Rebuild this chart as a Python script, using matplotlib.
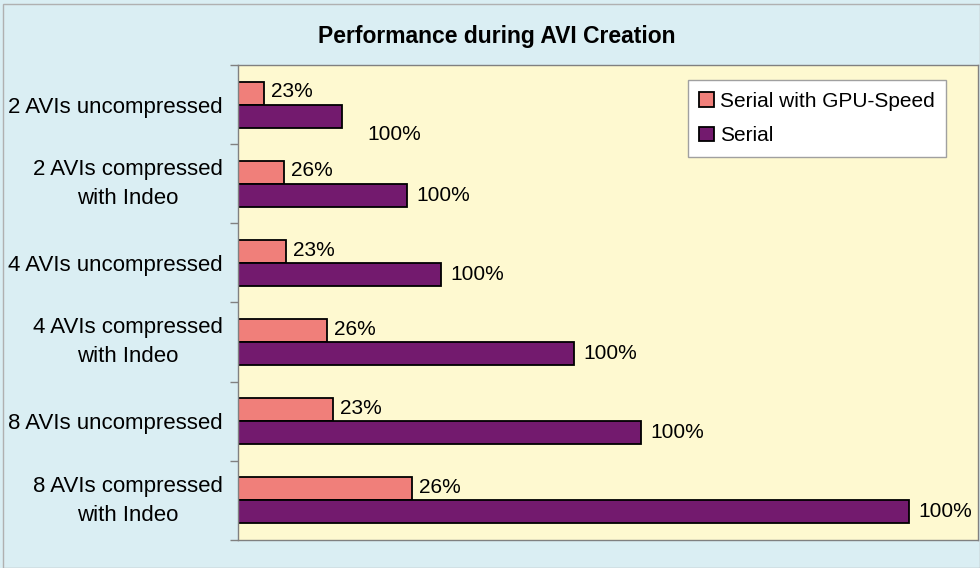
import numpy as np
import matplotlib.pyplot as plt
from matplotlib.patches import Rectangle

plt.rcParams['font.family'] = ['Liberation Sans', 'DejaVu Sans']

categories = ["2 AVIs uncompressed",
              "2 AVIs compressed\nwith Indeo",
              "4 AVIs uncompressed",
              "4 AVIs compressed\nwith Indeo",
              "8 AVIs uncompressed",
              "8 AVIs compressed\nwith Indeo"]
# relative run time (same arbitrary units for both series)
serial = [104, 169, 203, 336, 403, 671]
gpu = [26, 46, 48, 89, 95, 174]
serial_labels = ["100%", "100%", "100%", "100%", "100%", "100%"]
gpu_labels = ["23%", "26%", "23%", "26%", "23%", "26%"]

BG = "#daeef3"
PLOT_BG = "#fef9d0"
GPU_COL = "#f07f7a"
SERIAL_COL = "#731a6e"

fig = plt.figure(figsize=(9.8, 5.68), dpi=100, facecolor=BG)
fig.patches.append(Rectangle((0.003, 0.0), 0.997, 0.993, transform=fig.transFigure,
                             fill=False, edgecolor="#b0b0b0", lw=1))
ax = fig.add_axes([0.2429, 0.0493, 0.755, 0.8363])
ax.set_facecolor(PLOT_BG)

y = np.arange(len(categories))
h = 0.29
b1 = ax.barh(y - h / 2, gpu, height=h, color=GPU_COL, edgecolor="black", lw=1.3,
             label="Serial with GPU-Speed")
b2 = ax.barh(y + h / 2, serial, height=h, color=SERIAL_COL, edgecolor="black", lw=1.3,
             label="Serial")

ax.set_xlim(0, 740)
ax.set_ylim(len(categories) - 0.5, -0.5)

for i in range(len(categories)):
    ax.annotate(gpu_labels[i], (gpu[i], y[i] - h / 2), xytext=(5, 1),
                textcoords="offset points", va="center", ha="left", fontsize=15)
    if i == 0:
        ax.annotate(serial_labels[i], (serial[i], y[i] + h / 2), xytext=(18, -13),
                    textcoords="offset points", va="center", ha="left", fontsize=15)
    else:
        ax.annotate(serial_labels[i], (serial[i], y[i] + h / 2), xytext=(7, 0),
                    textcoords="offset points", va="center", ha="left", fontsize=15)

ax.set_xticks([])
# two-line labels sit a little higher than the group centre
label_pos = [p - 0.08 if "\n" in c else p for p, c in zip(y, categories)]
ax.set_yticks(label_pos)
ax.set_yticklabels(categories, fontsize=16)
for t in ax.get_yticklabels():
    t.set_multialignment("center")
    t.set_linespacing(1.5)
ax.tick_params(axis="y", which="major", length=0, pad=11)
ax.set_yticks(np.arange(len(categories) + 1) - 0.5, minor=True)
ax.tick_params(axis="y", which="minor", length=6, color="#808080", width=1)

for s in ax.spines.values():
    s.set_color("#808080")
    s.set_linewidth(1)

leg = ax.legend(loc="upper left", bbox_to_anchor=(0.608, 0.968), fontsize=15,
                frameon=True, fancybox=False, edgecolor="#a0a0a0", framealpha=1,
                handlelength=0.7, handleheight=0.7, handletextpad=0.3,
                borderpad=0.55, labelspacing=0.75, borderaxespad=0)
leg.get_frame().set_linewidth(1)

fig.text(0.507, 0.935, "Performance during AVI Creation", ha="center", va="center",
         fontsize=16.5, fontweight="bold")

fig.savefig("out.png", dpi=100, facecolor=BG)
